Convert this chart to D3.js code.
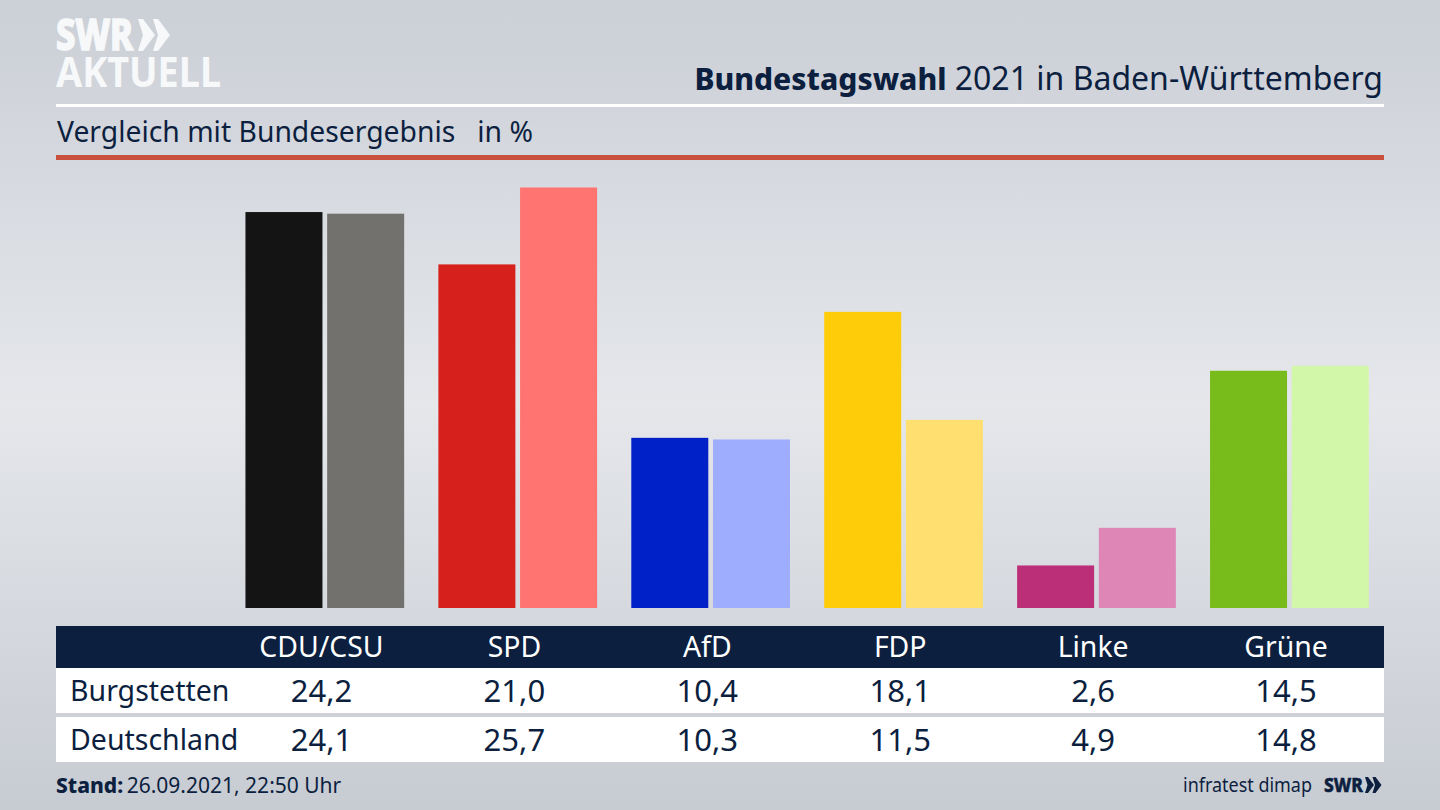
<!DOCTYPE html>
<html lang="de"><head><meta charset="utf-8">
<script src="https://cdn.jsdelivr.net/npm/d3@7"></script>
<style>html,body{margin:0;padding:0;background:#d8dbe0;overflow:hidden}svg{display:block}text{font-family:"Noto Sans",sans-serif}</style>
</head><body><svg id="c" width="1440" height="810"></svg>
<script>
const parties=["CDU/CSU","SPD","AfD","FDP","Linke","Grüne"];
const burgstetten=[24.2,21.0,10.4,18.1,2.6,14.5];
const deutschland=[24.1,25.7,10.3,11.5,4.9,14.8];
const colorsLocal=["#141414","#d6201c","#0021c7","#ffcc0a","#bb2e78","#78bc1c"];
const colorsNational=["#73716e","#ff7370","#9fadff","#ffdf70","#de86b6","#d3f7a8"];
const rowNames=["Burgstetten","Deutschland"];
const fmt=v=>v.toFixed(1).replace(".",",");

const navy="#0c1f3f";
const svg=d3.select("#c");
const defs=svg.append("defs");
const g=defs.append("linearGradient").attr("id","bg").attr("x1",0).attr("x2",0).attr("y1",0).attr("y2",1);
[[0,"#cbcfd6"],[0.5,"#e5e7eb"],[1,"#c7cbd2"]].forEach(s=>g.append("stop").attr("offset",s[0]).attr("stop-color",s[1]));
svg.append("rect").attr("width",1440).attr("height",810).attr("fill","url(#bg)");

// Logo
const logo=svg.append("g").attr("fill","#f7f8f9");
logo.append("text").attr("x",56).attr("y",50).attr("font-size",42).attr("font-weight",800).attr("stroke","#f7f8f9").attr("stroke-width",1.5).attr("textLength",77).attr("lengthAdjust","spacingAndGlyphs").text("SWR");
logo.append("text").attr("x",56).attr("y",87).attr("font-size",41).attr("font-weight",700).attr("textLength",165).attr("lengthAdjust","spacingAndGlyphs").text("AKTUELL");
[0,1].forEach(i=>{
  const cx0=138+i*15;
  logo.append("path").attr("d",`M${cx0} 19h5l12 16l-12 16h-5l5 -16z`);
});

// Header
const title=svg.append("text").attr("x",1383).attr("y",90).attr("text-anchor","end").attr("fill",navy);
title.append("tspan").attr("font-weight",800).attr("font-size",30).text("Bundestagswahl");
title.append("tspan").attr("font-size",32).text(" 2021 in Baden-Württemberg");
svg.append("rect").attr("x",56).attr("y",104).attr("width",1328).attr("height",3).attr("fill","#fff");
svg.append("text").attr("x",57).attr("y",142).attr("font-size",28.3).attr("fill",navy).attr("xml:space","preserve").text("Vergleich mit Bundesergebnis   in %");
svg.append("rect").attr("x",56).attr("y",155).attr("width",1328).attr("height",5).attr("fill","#c8503c");

// Scales
const x=d3.scaleBand().domain(parties).range([228.5,1386]).paddingInner(0).paddingOuter(0);
const y=d3.scaleLinear().domain([0,25.7]).range([608,187.5]);
const barW=77, gap=81.7;
const left=p=>x(p)+x.bandwidth()/2-79.5;

const bars=svg.append("g");
bars.selectAll(".l").data(parties).join("rect").attr("class","l")
 .attr("x",p=>left(p)).attr("width",barW)
 .attr("y",(p,i)=>y(burgstetten[i])).attr("height",(p,i)=>y(0)-y(burgstetten[i]))
 .attr("fill",(p,i)=>colorsLocal[i]);
bars.selectAll(".n").data(parties).join("rect").attr("class","n")
 .attr("x",p=>left(p)+gap).attr("width",barW)
 .attr("y",(p,i)=>y(deutschland[i])).attr("height",(p,i)=>y(0)-y(deutschland[i]))
 .attr("fill",(p,i)=>colorsNational[i]);

// Table
svg.append("rect").attr("x",56).attr("y",626).attr("width",1328).attr("height",42).attr("fill",navy);
svg.append("rect").attr("x",56).attr("y",668).attr("width",1328).attr("height",45).attr("fill","#fff");
svg.append("rect").attr("x",56).attr("y",717).attr("width",1328).attr("height",45).attr("fill","#fff");
const cx=p=>x(p)+x.bandwidth()/2-3.5;
svg.selectAll(".h").data(parties).join("text").attr("class","h").attr("x",cx).attr("y",657)
 .attr("text-anchor","middle").attr("font-size",28.4).attr("fill","#fff").text(p=>p);
[burgstetten,deutschland].forEach((row,r)=>{
  const by=r?750:701;
  svg.append("text").attr("x",70).attr("y",by).attr("font-size",28.5).attr("fill",navy).text(rowNames[r]);
  svg.selectAll(".v"+r).data(parties).join("text").attr("class","v"+r).attr("x",cx).attr("y",by+1)
   .attr("text-anchor","middle").attr("font-size",31).attr("fill",navy).text((p,i)=>fmt(row[i]));
});

// Footer
const st=svg.append("text").attr("x",56).attr("y",793).attr("font-size",21).attr("fill",navy);
st.append("tspan").attr("font-weight",800).text("Stand:");
st.append("tspan").attr("dx",-2).text(" 26.09.2021, 22:50 Uhr");
svg.append("text").attr("x",1183).attr("y",792).attr("font-size",20).attr("fill",navy).attr("textLength",129).attr("lengthAdjust","spacingAndGlyphs").text("infratest dimap");
svg.append("text").attr("x",1324).attr("y",792).attr("font-size",20).attr("font-weight",800).attr("stroke",navy).attr("stroke-width",0.5).attr("fill",navy).attr("textLength",39).attr("lengthAdjust","spacingAndGlyphs").text("SWR");
[0,1].forEach(i=>{const a=1365+i*7.5;
 svg.append("path").attr("d",`M${a} 777h3l6 8l-6 8h-3l2.5 -8z`).attr("fill",navy);});
</script></body></html>
